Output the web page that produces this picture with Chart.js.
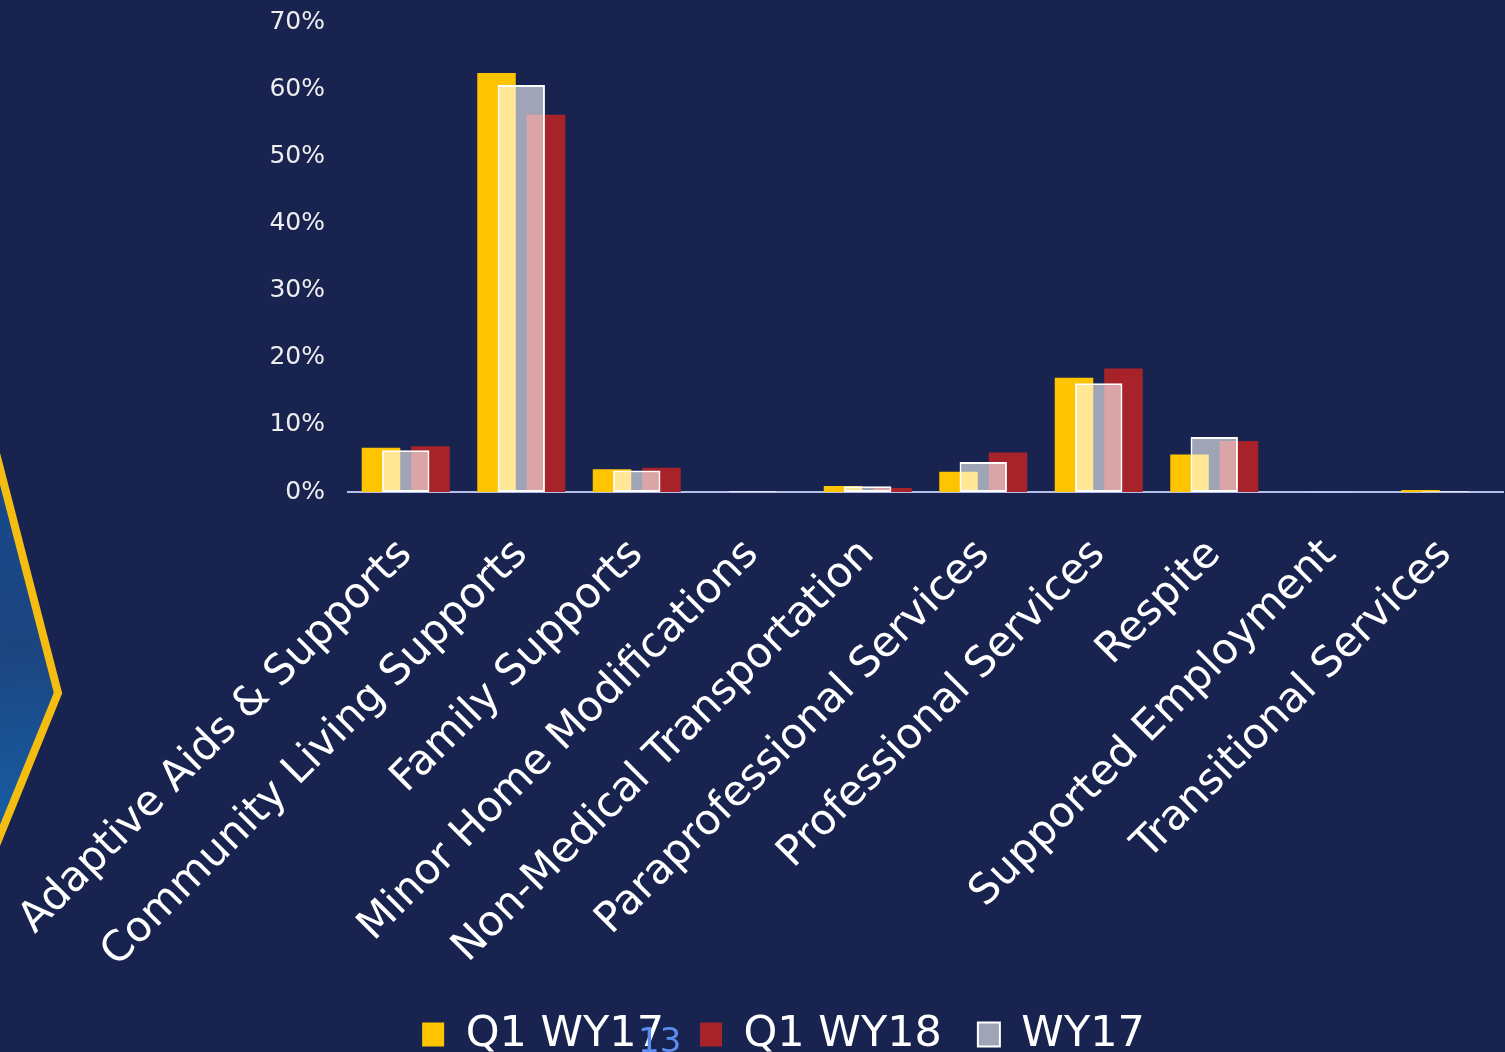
<!DOCTYPE html>
<html>
<head>
<meta charset="utf-8">
<script src="https://cdn.jsdelivr.net/npm/chart.js@4"></script>
<style>
  html, body { margin: 0; padding: 0; background: #18244f; overflow: hidden; }
  #wrap { position: relative; width: 1505px; height: 1052px; overflow: hidden; }
  #page { position: absolute; left: 638px; top: 1020px; color: #5b8def; font: 34px "DejaVu Sans"; }
</style>
</head>
<body>
<div id="wrap">
  <canvas id="chart" width="1505" height="1066"></canvas>
  <div id="page">13</div>
</div>
<script>
const categories = [
  "Adaptive Aids & Supports",
  "Community Living Supports",
  "Family Supports",
  "Minor Home Modifications",
  "Non-Medical Transportation",
  "Paraprofessional Services",
  "Professional Services",
  "Respite",
  "Supported Employment",
  "Transitional Services"
];
const q1wy17 = [6.6, 62.4, 3.4, 0, 0.9, 3.0, 17.0, 5.6, 0, 0.3];
const q1wy18 = [6.8, 56.2, 3.6, 0, 0.6, 5.9, 18.4, 7.6, 0, 0];
const wy17 = [6.2, 60.6, 3.2, 0.1, 0.85, 4.45, 16.2, 8.2, 0.05, 0.1];
const yTicks = [0, 10, 20, 30, 40, 50, 60, 70];

// blue/yellow shape on the left edge of the slide, and legend nudge
const slideDeco = {
  id: "slideDeco",
  afterLayout(chart) {
    chart.legend.left += 32;
    chart.legend.right += 32;
  },
  beforeDraw(chart) {
    const ctx = chart.ctx;
    ctx.save();
    const g = ctx.createLinearGradient(0, 460, 60, 830);
    g.addColorStop(0, "#17498c");
    g.addColorStop(0.5, "#1c4580");
    g.addColorStop(1, "#165fa6");
    ctx.beginPath();
    ctx.moveTo(-10, 430);
    ctx.lineTo(58, 693);
    ctx.lineTo(-10, 860);
    ctx.closePath();
    ctx.fillStyle = g;
    ctx.fill();
    ctx.lineWidth = 8;
    ctx.strokeStyle = "#f5bd12";
    ctx.stroke();
    ctx.restore();
  }
};

const chart = new Chart(document.getElementById("chart").getContext("2d"), {
  type: "bar",
  data: {
    labels: categories,
    datasets: [
      {
        label: "Q1 WY17",
        data: q1wy17,
        backgroundColor: "#ffc400",
        categoryPercentage: 0.857,
        barPercentage: 0.778,
        order: 1
      },
      {
        label: "Q1 WY18",
        data: q1wy18,
        backgroundColor: "#a8222a",
        categoryPercentage: 0.857,
        barPercentage: 0.778,
        order: 1
      },
      {
        label: "WY17",
        data: wy17,
        grouped: false,
        backgroundColor: "rgba(255,255,255,0.59)",
        borderColor: "#ffffff",
        borderWidth: 2,
        borderSkipped: false,
        categoryPercentage: 1,
        barPercentage: 0.41,
        order: 0
      }
    ]
  },
  options: {
    responsive: false,
    animation: false,
    layout: { padding: { top: 0, right: 2, left: 0, bottom: 0 } },
    plugins: {
      tooltip: { enabled: false },
      legend: {
        position: "bottom",
        labels: {
          color: "#ffffff",
          font: { family: "DejaVu Sans", size: 43 },
          boxWidth: 22,
          boxHeight: 24,
          padding: 36,
          sort: (a, b) => a.datasetIndex - b.datasetIndex
        }
      }
    },
    scales: {
      x: {
        grid: { display: false },
        border: { display: true, color: "#b4c0ea", width: 2 },
        afterFit: (scale) => {
          scale.height = 485;
          scale.paddingLeft -= 8;
        },
        ticks: {
          color: "#ffffff",
          font: { family: "DejaVu Sans", size: 42 },
          minRotation: 45,
          maxRotation: 45,
          padding: 30
        }
      },
      y: {
        min: 0,
        max: 70,
        afterBuildTicks: (scale) => {
          scale.ticks = yTicks.map((v) => ({ value: v }));
        },
        afterFit: (scale) => {
          scale.paddingTop = 22;
        },
        grid: { display: false },
        border: { display: false },
        ticks: {
          color: "#eeeeee",
          font: { family: "DejaVu Sans", size: 25 },
          padding: 15,
          callback: (v) => v + "%"
        }
      }
    }
  },
  plugins: [slideDeco]
});
</script>
</body>
</html>
